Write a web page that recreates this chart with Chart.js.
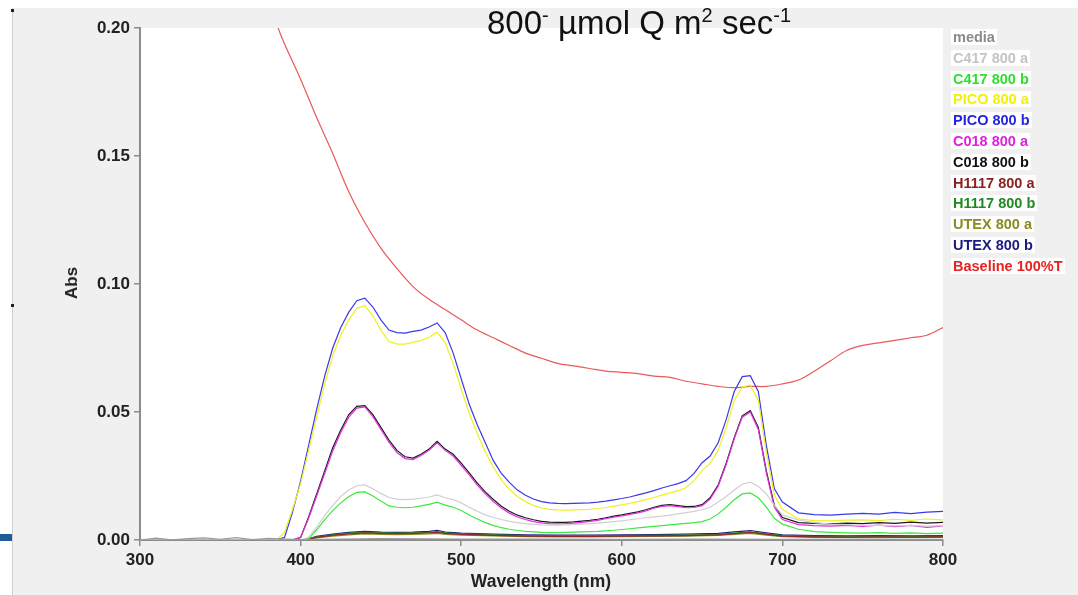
<!DOCTYPE html>
<html>
<head>
<meta charset="utf-8">
<script src="https://cdn.jsdelivr.net/npm/chart.js@4.4.1/dist/chart.umd.min.js"></script>
<style>
  body { margin:0; background:#fff; font-family: Arial, "Liberation Sans", sans-serif; }
  #panel { position:absolute; left:12px; top:8px; width:1066px; height:587px; background:#f0f0f0; border-left:1px solid #cfcfcf; }
  #wrap { position:absolute; left:0; top:0; width:1078px; height:595px; }
  #title { position:absolute; left:487px; top:5px; font-size:33px; line-height:36px; color:#111; white-space:nowrap; }
  #title sup { font-size:20px; vertical-align:0; position:relative; top:-12px; }
  #ytitle { position:absolute; left:72px; top:283px; transform:translate(-50%,-50%) rotate(-90deg); font:bold 17px Arial, "Liberation Sans", sans-serif; color:#222; }
  #xtitle { position:absolute; left:541px; top:581px; transform:translate(-50%,-50%); font:bold 17.5px Arial, "Liberation Sans", sans-serif; color:#222; }
  #legend { position:absolute; left:951px; top:28px; }
  #legend div { height:20.8px; }
  #legend span { display:inline-block; background:#fff; padding:0 2px; line-height:18px; font:bold 14.5px Arial, "Liberation Sans", sans-serif; }
  .dot { position:absolute; width:3px; height:3px; background:#222; }
</style>
</head>
<body>
<div id="panel"></div>
<div class="dot" style="left:11px;top:9px"></div>
<div class="dot" style="left:11px;top:304px"></div>
<div style="position:absolute;left:0;top:534px;width:12px;height:7px;background:#1d5c96"></div>
<div id="wrap"><canvas id="c" width="1078" height="595"></canvas></div>
<div id="title">800<sup>-</sup> µmol Q m<sup>2</sup> sec<sup>-1</sup></div>
<div id="ytitle">Abs</div>
<div id="xtitle">Wavelength (nm)</div>
<div id="legend"></div>
<script>
// wavelength grid for the strong series (nm)
const wl = [300, 385, 390, 395, 400, 405, 410, 415, 420, 425, 430, 435, 440, 445, 450, 455, 460, 465, 470, 475,
  480, 485, 490, 495, 500, 505, 510, 515, 520, 525, 530, 535, 540, 545, 550, 555, 560, 565, 570, 575,
  580, 585, 590, 595, 600, 605, 610, 615, 620, 625, 630, 635, 640, 645, 650, 655, 660, 665, 670, 675,
  680, 685, 690, 695, 700, 710, 720, 730, 740, 750, 760, 770, 780, 790, 800];

const picoB = [0, 0, 0.001, 0.011, 0.023, 0.037, 0.051, 0.064, 0.075, 0.083, 0.089, 0.0935, 0.0945, 0.091, 0.086, 0.082, 0.081, 0.0808, 0.0815, 0.082,
  0.0832, 0.0848, 0.081, 0.073, 0.063, 0.053, 0.045, 0.038, 0.031, 0.026, 0.0225, 0.0195, 0.0175, 0.016, 0.015, 0.0145, 0.0143, 0.0142, 0.0143, 0.0144,
  0.0145, 0.0148, 0.0152, 0.0157, 0.0162, 0.0168, 0.0176, 0.0184, 0.0193, 0.0203, 0.0212, 0.022, 0.0232, 0.026, 0.0302, 0.0328, 0.038, 0.047, 0.058, 0.0638,
  0.0642, 0.058, 0.037, 0.020, 0.0148, 0.0106, 0.0099, 0.0097, 0.0101, 0.0104, 0.0101, 0.0108, 0.0103, 0.0109, 0.0112];

const picoA = [0, 0, 0.003, 0.012, 0.022, 0.035, 0.048, 0.061, 0.072, 0.080, 0.086, 0.0905, 0.0915, 0.0875, 0.082, 0.0775, 0.0765, 0.0765, 0.0772, 0.078,
  0.0792, 0.0812, 0.077, 0.069, 0.059, 0.0495, 0.0415, 0.0345, 0.0285, 0.0235, 0.0198, 0.017, 0.015, 0.0135, 0.0125, 0.012, 0.0118, 0.0117, 0.0118, 0.0119,
  0.012, 0.0123, 0.0127, 0.0132, 0.0137, 0.0143, 0.015, 0.0158, 0.0166, 0.0175, 0.0184, 0.0192, 0.0205, 0.0232, 0.0272, 0.0298, 0.035, 0.044, 0.0545, 0.0598,
  0.0605, 0.0545, 0.034, 0.0175, 0.012, 0.0082, 0.0076, 0.0075, 0.0078, 0.0079, 0.0076, 0.0081, 0.0077, 0.0082, 0.0079];

const c018B = [0, 0, 0, 0, 0.001, 0.009, 0.018, 0.027, 0.036, 0.043, 0.049, 0.0522, 0.0525, 0.049, 0.044, 0.039, 0.035, 0.0325, 0.032, 0.0335,
  0.0355, 0.0385, 0.0355, 0.0335, 0.030, 0.0262, 0.0222, 0.0188, 0.0158, 0.0132, 0.0112, 0.0097, 0.0087, 0.0079, 0.0073, 0.007, 0.0069, 0.0069, 0.0071, 0.0074,
  0.0077, 0.0081, 0.0087, 0.0093, 0.0098, 0.0104, 0.011, 0.0118, 0.0128, 0.0135, 0.0138, 0.0134, 0.013, 0.0131, 0.0138, 0.0165, 0.0215, 0.030, 0.040, 0.0485,
  0.0505, 0.044, 0.027, 0.0135, 0.0088, 0.0068, 0.0065, 0.0063, 0.0066, 0.0064, 0.0068, 0.0065, 0.007, 0.0066, 0.0069];

const c018A = [0, 0, 0, 0, 0.001, 0.0085, 0.0172, 0.026, 0.0348, 0.042, 0.048, 0.0515, 0.052, 0.0482, 0.0432, 0.0382, 0.0342, 0.0318, 0.0314, 0.033,
  0.035, 0.038, 0.035, 0.0328, 0.0292, 0.0254, 0.0214, 0.018, 0.015, 0.0125, 0.0105, 0.009, 0.008, 0.0072, 0.0067, 0.0064, 0.0063, 0.0064, 0.0066, 0.0069,
  0.0073, 0.0077, 0.0083, 0.0089, 0.0094, 0.01, 0.0106, 0.0114, 0.0124, 0.0131, 0.0134, 0.013, 0.0126, 0.0127, 0.0134, 0.016, 0.021, 0.0295, 0.0395, 0.048,
  0.05, 0.0432, 0.0262, 0.0128, 0.008, 0.006, 0.0056, 0.0054, 0.0057, 0.0053, 0.0058, 0.0052, 0.0057, 0.0049, 0.0055];

const c417A = [0, 0, 0, 0, 0, 0.001, 0.005, 0.0095, 0.0135, 0.017, 0.0195, 0.0212, 0.0215, 0.020, 0.0182, 0.0166, 0.016, 0.0158, 0.016, 0.0163,
  0.0168, 0.0176, 0.0165, 0.0158, 0.0145, 0.0128, 0.0112, 0.0098, 0.0088, 0.008, 0.0073, 0.0068, 0.0064, 0.0061, 0.0059, 0.0058, 0.0058, 0.0059, 0.006, 0.0062,
  0.0064, 0.0066, 0.0069, 0.0072, 0.0075, 0.0079, 0.0083, 0.0087, 0.009, 0.0093, 0.0097, 0.0102, 0.0107, 0.0112, 0.0118, 0.0128, 0.0148, 0.017, 0.0195, 0.0218,
  0.0226, 0.021, 0.018, 0.0135, 0.0098, 0.0078, 0.0068, 0.0062, 0.006, 0.0057, 0.0058, 0.0055, 0.0057, 0.0054, 0.0056];

const c417B = [0, 0, 0, 0, 0, 0.0005, 0.004, 0.008, 0.0115, 0.0145, 0.017, 0.0186, 0.0188, 0.0172, 0.0152, 0.0133, 0.0128, 0.0126, 0.0128, 0.0133,
  0.0139, 0.0148, 0.0136, 0.0128, 0.0115, 0.0098, 0.0082, 0.0068, 0.0057, 0.0048, 0.0042, 0.0037, 0.0034, 0.0032, 0.003, 0.0029, 0.0029, 0.003, 0.0031, 0.0032,
  0.0033, 0.0034, 0.0036, 0.0038, 0.0041, 0.0044, 0.0047, 0.005, 0.0053, 0.0056, 0.0059, 0.0062, 0.0065, 0.0068, 0.0072, 0.0082, 0.0102, 0.0128, 0.0157, 0.018,
  0.0184, 0.0165, 0.0128, 0.0085, 0.0062, 0.0042, 0.0033, 0.003, 0.0028, 0.0027, 0.0029, 0.0026, 0.0028, 0.0025, 0.0027];

// coarser grid for the weak series
const wlLow = [300, 400, 405, 410, 420, 430, 440, 450, 460, 470, 480, 485, 490, 500, 520, 540, 560, 580, 600, 620,
  640, 660, 670, 680, 690, 700, 720, 740, 760, 780, 800];
const h1117A = [0, 0, 0.0003, 0.001, 0.0018, 0.0024, 0.0028, 0.0026, 0.0025, 0.0026, 0.0028, 0.003, 0.0026, 0.0022, 0.0018, 0.0015, 0.0014, 0.0014, 0.0015, 0.0016,
  0.0017, 0.002, 0.0025, 0.003, 0.0022, 0.0015, 0.0012, 0.0011, 0.0012, 0.0011, 0.0012];
const h1117B = [0, 0, 0.0004, 0.0012, 0.002, 0.0027, 0.003, 0.0028, 0.0027, 0.0028, 0.003, 0.0033, 0.0028, 0.0024, 0.002, 0.0017, 0.0016, 0.0016, 0.0017, 0.0018,
  0.0019, 0.0022, 0.0027, 0.0032, 0.0024, 0.0017, 0.0014, 0.0013, 0.0014, 0.0013, 0.0014];
const utexA = [0, 0, 0.0002, 0.0008, 0.0015, 0.002, 0.0024, 0.0022, 0.0021, 0.0022, 0.0024, 0.0026, 0.0022, 0.0019, 0.0016, 0.0013, 0.0012, 0.0012, 0.0013, 0.0014,
  0.0015, 0.0018, 0.0022, 0.0026, 0.0019, 0.0013, 0.001, 0.001, 0.001, 0.001, 0.001];
const utexB = [0, 0, 0.0005, 0.0014, 0.0023, 0.003, 0.0034, 0.0031, 0.003, 0.0031, 0.0034, 0.0038, 0.0031, 0.0027, 0.0023, 0.002, 0.0019, 0.0019, 0.002, 0.0021,
  0.0023, 0.0026, 0.0032, 0.0037, 0.0028, 0.002, 0.0017, 0.0016, 0.0017, 0.0016, 0.0017];

// media blank
const wlMedia = [300, 310, 320, 330, 340, 350, 360, 370, 380, 390, 400, 450, 500, 550, 600, 650, 700, 750, 800];
const media = [0, 0.0007, 0.0001, 0.0005, 0.0008, 0.0003, 0.0009, 0.0002, 0.0006, 0.0004, 0.0002, 0.0005, 0.0004, 0.0004, 0.0003, 0.0004, 0.0003, 0.0004, 0.0003];

// baseline 100%T
const wlBase = [380, 386, 400, 410, 420, 430, 440, 450, 460, 470, 480, 490, 500, 510, 520, 530, 540, 550, 560, 570,
  580, 590, 600, 610, 620, 630, 640, 650, 660, 670, 680, 690, 700, 710, 720, 730, 740, 750, 760, 770, 780, 790, 800];
const baseline = [0.215, 0.200, 0.180, 0.165, 0.151, 0.136, 0.124, 0.114, 0.106, 0.099, 0.094, 0.090, 0.086, 0.082, 0.079, 0.076, 0.073, 0.071, 0.069, 0.068,
  0.067, 0.066, 0.0655, 0.065, 0.064, 0.0635, 0.062, 0.061, 0.060, 0.0595, 0.060, 0.060, 0.061, 0.0625, 0.066, 0.070, 0.074, 0.076, 0.077, 0.078, 0.079, 0.080, 0.083];

const series = [
  { label: 'media', x: wlMedia, y: media, line: '#9a9a9a', text: '#8a8a8a' },
  { label: 'C417 800 a', x: wl, y: c417A, line: '#cfcfcf', text: '#c4c4c4' },
  { label: 'C417 800 b', x: wl, y: c417B, line: '#3ee83e', text: '#2ee02e' },
  { label: 'PICO 800 a', x: wl, y: picoA, line: '#f0f020', text: '#f2f200' },
  { label: 'PICO 800 b', x: wl, y: picoB, line: '#3a3ae8', text: '#2424e0' },
  { label: 'C018 800 a', x: wl, y: c018A, line: '#e030e0', text: '#e020e0' },
  { label: 'C018 800 b', x: wl, y: c018B, line: '#1a1a1a', text: '#111111' },
  { label: 'H1117 800 a', x: wlLow, y: h1117A, line: '#8c2a2a', text: '#8a2020' },
  { label: 'H1117 800 b', x: wlLow, y: h1117B, line: '#2a8a2a', text: '#208a20' },
  { label: 'UTEX 800 a', x: wlLow, y: utexA, line: '#8a8a2a', text: '#8a8a20' },
  { label: 'UTEX 800 b', x: wlLow, y: utexB, line: '#20207a', text: '#1a1a80' },
  { label: 'Baseline 100%T', x: wlBase, y: baseline, line: '#e85a58', text: '#e82020', smooth: true }
];

const legend = document.getElementById('legend');
series.forEach(s => {
  const row = document.createElement('div');
  const sp = document.createElement('span');
  sp.textContent = s.label;
  sp.style.color = s.text;
  row.appendChild(sp);
  legend.appendChild(row);
});

const plotBg = {
  id: 'plotBg',
  beforeDraw(chart) {
    const { ctx, chartArea: a } = chart;
    ctx.save();
    ctx.fillStyle = '#ffffff';
    ctx.fillRect(a.left, a.top, a.right - a.left, a.bottom - a.top);
    ctx.restore();
  }
};

const tickFont = { family: 'Arial, "Liberation Sans", sans-serif', size: 17, weight: 'bold' };

new Chart(document.getElementById('c'), {
  type: 'line',
  data: {
    datasets: series.map(s => ({
      label: s.label,
      data: s.x.map((v, i) => ({ x: v, y: s.y[i] })),
      borderColor: s.line,
      borderWidth: 1.2,
      pointRadius: 0,
      tension: s.smooth ? 0.35 : 0,
      fill: false
    }))
  },
  options: {
    responsive: false,
    animation: false,
    layout: { padding: { left: 0, top: 28, right: 135, bottom: 0 } },
    scales: {
      x: {
        type: 'linear', min: 300, max: 800,
        afterFit: s => { s.height = 55; },
        ticks: { stepSize: 100, color: '#222', font: tickFont, padding: 4 },
        grid: { drawOnChartArea: false, tickLength: 6, color: '#8c8c8c', lineWidth: 1.5 },
        border: { color: '#8c8c8c', width: 2 }
      },
      y: {
        min: 0, max: 0.2,
        afterFit: s => { s.width = 140; },
        ticks: { stepSize: 0.05, color: '#222', font: tickFont, padding: 4, callback: v => v.toFixed(2) },
        grid: { drawOnChartArea: false, tickLength: 6, color: '#8c8c8c', lineWidth: 1.5 },
        border: { color: '#8c8c8c', width: 2 }
      }
    },
    plugins: { legend: { display: false }, tooltip: { enabled: false } }
  },
  plugins: [plotBg]
});
</script>
</body>
</html>
